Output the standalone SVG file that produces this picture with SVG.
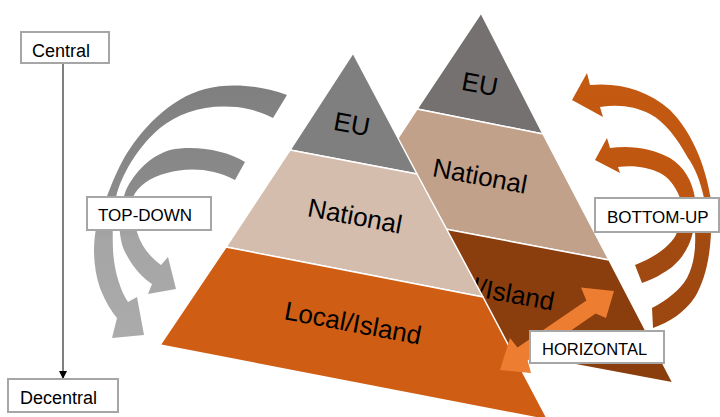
<svg xmlns="http://www.w3.org/2000/svg" width="720" height="417" viewBox="0 0 720 417">
<style>
.layer{stroke:#ffffff;stroke-width:1.5;stroke-linejoin:round}
.ptext{font-family:"Liberation Sans",Arial,sans-serif;font-size:26px;fill:#000;text-anchor:middle}
.box{fill:#ffffff;stroke:#A6A6A6;stroke-width:2}
.label{font-family:"Liberation Sans",Arial,sans-serif;font-size:17px;fill:#000}
</style>
<defs>
<linearGradient id="grayGrad" gradientUnits="userSpaceOnUse" x1="0" y1="85" x2="0" y2="340">
<stop offset="0" stop-color="#7F7F7F"/>
<stop offset="0.45" stop-color="#8C8C8C"/>
<stop offset="0.6" stop-color="#A5A5A5"/>
<stop offset="1" stop-color="#ABABAB"/>
</linearGradient>
<linearGradient id="orangeGrad" gradientUnits="userSpaceOnUse" x1="0" y1="70" x2="0" y2="330">
<stop offset="0" stop-color="#C55A11"/>
<stop offset="0.5" stop-color="#BD5611"/>
<stop offset="0.65" stop-color="#A24A10"/>
<stop offset="1" stop-color="#9C4710"/>
</linearGradient>
<marker id="arrowEnd" viewBox="0 0 10 10" refX="10" refY="5" markerWidth="8" markerHeight="8" markerUnits="userSpaceOnUse" orient="auto">
<path d="M0,0 L10,5 L0,10 Z" fill="#000"/>
</marker>
</defs>

<g id="pyramid-back">
<polygon class="layer" points="481,13 417,109 543,134" fill="#767171"/>
<polygon class="layer" points="417,109 543,134 609,260 350,211" fill="#C2A18B"/>
<polygon class="layer" points="350,211 609,260 673,383 285,310" fill="#8A3E0D"/>
<text class="ptext" transform="translate(480,84) rotate(10.7)" y="9">EU</text>
<text class="ptext" transform="translate(480,176) rotate(10.7)" y="9">National</text>
<text class="ptext" transform="translate(486,289) rotate(10.7)" y="9">Local/Island</text>
</g>

<g id="pyramid-front">
<polygon class="layer" points="353,53 290,150 417,174" fill="#7F7F7F"/>
<polygon class="layer" points="290,150 417,174 483,297 226,247" fill="#D4BDAD"/>
<polygon class="layer" points="226,247 483,297 548,420 160,345" fill="#CF5E14"/>
<text class="ptext" transform="translate(352,124) rotate(10.7)" y="9">EU</text>
<text class="ptext" transform="translate(355,216) rotate(10.7)" y="9">National</text>
<text class="ptext" transform="translate(353,323) rotate(10.7)" y="9">Local/Island</text>
</g>

<g id="top-down-arrows">
<path fill="url(#grayGrad)" d="M287,95 C262,86 232,82 205,89 C170,98 140,130 123,160 C112,180 106,200 100,215 C92,235 92,265 100,288 C106,303 112,312 117,318 L112,338 L144,335 L137,297 L128,302 C120,290 114,270 113,250 C112,225 114,205 117,193 C124,170 140,145 160,128 C180,112 205,104 237,107 C252,109 264,113 273,118 Z"/>
<path fill="url(#grayGrad)" d="M245,162 C225,150 195,145 170,150 C150,156 135,172 126,190 L121,205 C118,220 119,240 125,252 C133,268 143,278 152,284 L148,294 L176,289 L168,257 L161,265 C150,257 141,246 137,232 C134,220 132,205 133,197 C138,186 150,177 167,173 C187,167 213,168 235,180 Z"/>
</g>

<g id="bottom-up-arrows">
<path fill="url(#orangeGrad)" d="M572,100 L587,73 L590,85 C618,82 648,90 670,110 C690,130 705,162 711,200 L711,232 C710,258 705,280 695,297 C685,312 670,322 653,328 L652,308 C667,300 680,290 687,278 C694,265 696,248 695,232 L704,198 C700,180 695,168 688,158 C677,138 665,122 650,114 C635,106 618,104 600,107 L603,117 Z"/>
<path fill="url(#orangeGrad)" d="M595,160 L607,138 L610,148 C630,145 652,148 670,158 C684,167 692,180 695,198 L693,232 C689,250 678,265 663,273 C656,278 649,280 642,283 L635,265 C648,260 660,253 668,245 C673,240 676,236 677,232 L680,198 C675,185 668,177 660,173 C648,167 633,165 618,167 L620,173 Z"/>
</g>

<g id="horizontal-arrow">
<polygon fill="#ED7D31" points="500,370 510,338 517.5,347.5 586.4,300.4 581,287.5 614,291 606,318 595.6,313.6 527.6,360.6 531,373"/>
</g>

<g id="connectors">
<line x1="63" y1="63" x2="63" y2="379" stroke="#000" stroke-width="1" marker-end="url(#arrowEnd)"/>
</g>

<g id="central">
<rect class="box" x="21" y="32" width="88" height="31"/>
<text class="label" x="32" y="57" style="font-size:18px">Central</text>
</g>
<g id="decentral">
<rect class="box" x="8" y="379" width="110" height="33"/>
<text class="label" x="20" y="404" style="font-size:18px">Decentral</text>
</g>
<g id="top-down">
<rect class="box" x="87" y="197" width="124" height="33"/>
<text class="label" x="98" y="221">TOP-DOWN</text>
</g>
<g id="bottom-up">
<rect class="box" x="595" y="198" width="124" height="34"/>
<text class="label" x="607" y="223">BOTTOM-UP</text>
</g>
<g id="horizontal">
<rect class="box" x="530" y="331" width="134" height="32"/>
<text class="label" x="542" y="355" style="font-size:16.5px">HORIZONTAL</text>
</g>
</svg>
